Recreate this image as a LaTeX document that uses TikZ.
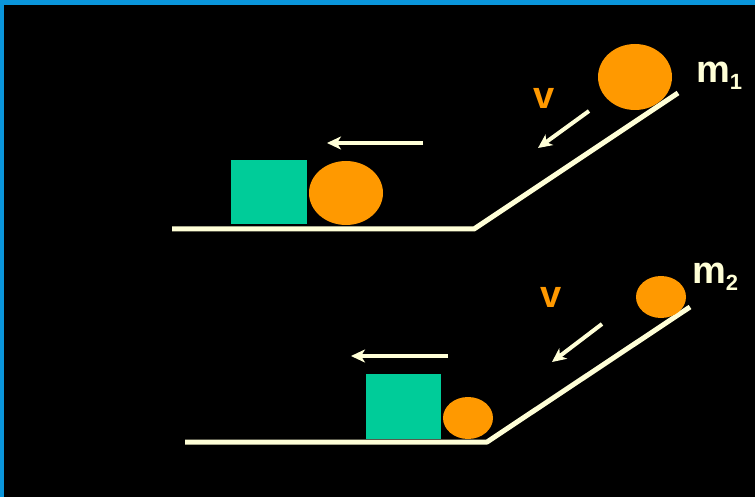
\documentclass[tikz,border=0pt]{standalone}
\usepackage{fontspec}
\setmainfont{Liberation Sans}
\usetikzlibrary{arrows.meta}
\definecolor{cream}{RGB}{255,255,215}
\definecolor{ballorange}{RGB}{255,153,0}
\definecolor{boxgreen}{RGB}{0,204,153}
\definecolor{frameblue}{RGB}{10,150,220}
\newcommand{\massub}[1]{m\raisebox{-7pt}{\fontsize{22}{22}\selectfont #1}}
\begin{document}
\begin{tikzpicture}[x=1pt,y=-1pt,>={Stealth[length=14pt,width=13pt,inset=4pt]},line join=round,font=\fontsize{38}{38}\selectfont\bfseries]
	\useasboundingbox (0,0) rectangle (755,497);
	\fill [frameblue] (0,0) rectangle (755,497);
	\fill [black] (4,5) rectangle (755,497);
	% upper: heavy ball m1
	\draw [line width=5pt, cream] (172,229)--(474,229)--(678,93);
	\fill [boxgreen] (231,160) rectangle (307,224);
	\fill [ballorange] (346,193) ellipse [x radius=37, y radius=32];
	\fill [ballorange] (635,77) ellipse [x radius=37, y radius=33];
	\coordinate (boxonetail) at (423,143); \coordinate (boxonehead) at (327,143);
	\coordinate (vonetail) at (589,111); \coordinate (vonehead) at (538,148);
	\draw [->, line width=4pt, cream] (boxonetail)--(boxonehead);
	\draw [->, line width=4pt, cream] (vonetail)--(vonehead);
	\node (vone) [anchor=base west, inner sep=0pt, ballorange] at (533,109) {v};
	\node (mone) [anchor=base west, inner sep=0pt, cream] at (696,83) {\massub{1}};
	% lower: light ball m2
	\draw [line width=5pt, cream] (185,442)--(487,442)--(690,307);
	\fill [boxgreen] (366,374) rectangle (441,439);
	\fill [ballorange] (468,418) ellipse [x radius=25, y radius=21];
	\fill [ballorange] (661,297) ellipse [x radius=25, y radius=21];
	\coordinate (boxtwotail) at (448,356); \coordinate (boxtwohead) at (351,356);
	\coordinate (vtwotail) at (602,324); \coordinate (vtwohead) at (552,362);
	\draw [->, line width=4pt, cream] (boxtwotail)--(boxtwohead);
	\draw [->, line width=4pt, cream] (vtwotail)--(vtwohead);
	\node (vtwo) [anchor=base west, inner sep=0pt, ballorange] at (540,307) {v};
	\node (mtwo) [anchor=base west, inner sep=0pt, cream] at (692,283) {\massub{2}};
\end{tikzpicture}
\end{document}
